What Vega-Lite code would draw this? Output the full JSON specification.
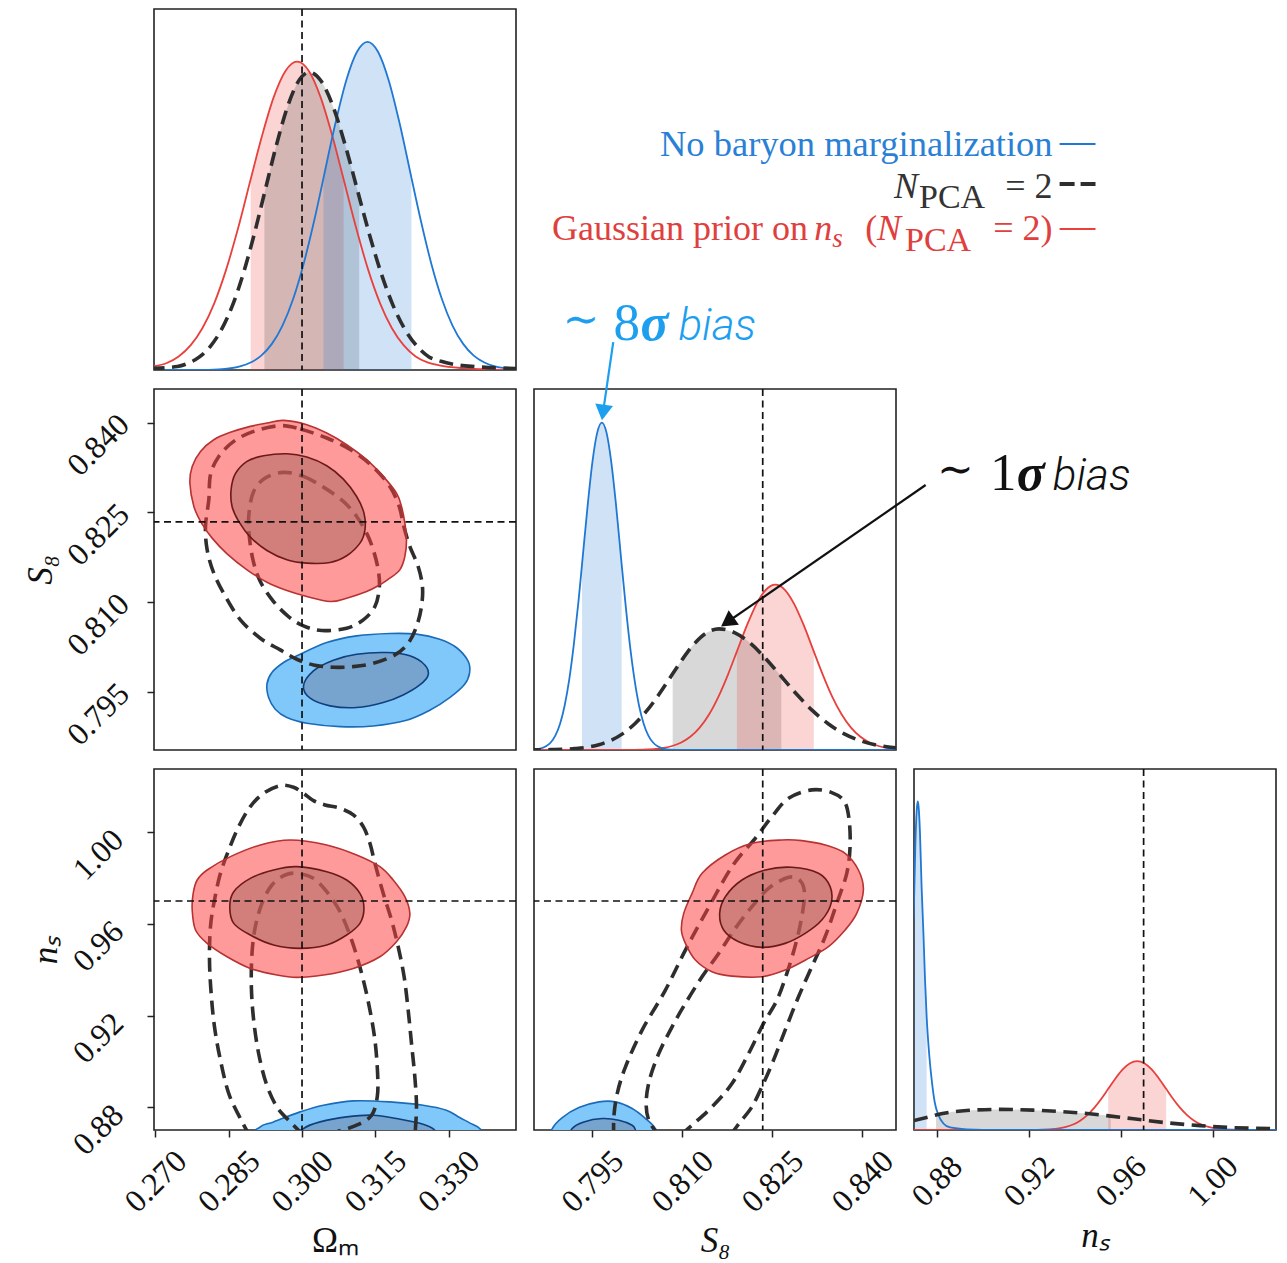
{
"$schema": "https://vega.github.io/schema/vega-lite/v6.json",
"padding": {"left": 22, "top": 7, "right": 5, "bottom": 0},
"background": "white",
"config": {
 "view": {"stroke": "#222222", "strokeWidth": 1.6},
 "axis": {"domain": false, "grid": false, "ticks": true, "tickSize": 7, "tickWidth": 1.5, "tickColor": "#222222", "labelFont": "Liberation Serif", "labelFontSize": 32, "labelColor": "#111111", "labelAngle": -45, "labelAlign": "center", "labelBaseline": "middle", "labelOverlap": false, "labelFlush": false, "labelBound": false, "titleFont": "Liberation Serif", "titleFontSize": 35, "titleFontWeight": "normal", "titleColor": "#111111"},
 "axisBottom": {"labelPadding": 44, "titlePadding": 6},
 "axisLeft": {"labelPadding": 49, "labelOffset": 22, "titlePadding": 3}
},
"datasets": {
 "A_b": [{"x":0.2699,"y":0,"sh":0},{"x":0.2786,"y":0.0003,"sh":0},{"x":0.28295,"y":0.002,"sh":0},{"x":0.2873,"y":0.0101,"sh":0},{"x":0.28948,"y":0.0207,"sh":0},{"x":0.29165,"y":0.0399,"sh":0},{"x":0.29383,"y":0.0724,"sh":0},{"x":0.296,"y":0.123,"sh":0},{"x":0.29818,"y":0.1966,"sh":0},{"x":0.30035,"y":0.2952,"sh":0},{"x":0.30253,"y":0.4161,"sh":0},{"x":0.3044,"y":0.5323,"sh":1},{"x":0.3047,"y":0.5513,"sh":1},{"x":0.30688,"y":0.6861,"sh":1},{"x":0.30905,"y":0.8022,"sh":1},{"x":0.31123,"y":0.881,"sh":1},{"x":0.3134,"y":0.909,"sh":1},{"x":0.31558,"y":0.881,"sh":1},{"x":0.31775,"y":0.8022,"sh":1},{"x":0.31993,"y":0.6861,"sh":1},{"x":0.3221,"y":0.5513,"sh":1},{"x":0.3224,"y":0.5323,"sh":1},{"x":0.32428,"y":0.4161,"sh":0},{"x":0.32645,"y":0.2952,"sh":0},{"x":0.32863,"y":0.1966,"sh":0},{"x":0.3308,"y":0.123,"sh":0},{"x":0.33298,"y":0.0724,"sh":0},{"x":0.33515,"y":0.0399,"sh":0},{"x":0.33733,"y":0.0207,"sh":0},{"x":0.3395,"y":0.0101,"sh":0},{"x":0.34385,"y":0.002,"sh":0}],
 "A_r": [{"x":0.2689,"y":0.009,"sh":0},{"x":0.27233,"y":0.0195,"sh":0},{"x":0.27475,"y":0.0375,"sh":0},{"x":0.27718,"y":0.068,"sh":0},{"x":0.2796,"y":0.1155,"sh":0},{"x":0.28203,"y":0.1847,"sh":0},{"x":0.28445,"y":0.2773,"sh":0},{"x":0.28688,"y":0.391,"sh":0},{"x":0.28949,"y":0.5284,"sh":1},{"x":0.29173,"y":0.6446,"sh":1},{"x":0.29415,"y":0.7537,"sh":1},{"x":0.29658,"y":0.8277,"sh":1},{"x":0.299,"y":0.854,"sh":1},{"x":0.30143,"y":0.8277,"sh":1},{"x":0.30385,"y":0.7537,"sh":1},{"x":0.30628,"y":0.6446,"sh":1},{"x":0.30851,"y":0.5284,"sh":1},{"x":0.31113,"y":0.391,"sh":0},{"x":0.31355,"y":0.2773,"sh":0},{"x":0.31598,"y":0.1847,"sh":0},{"x":0.3184,"y":0.1155,"sh":0},{"x":0.32083,"y":0.068,"sh":0},{"x":0.32325,"y":0.0375,"sh":0},{"x":0.32568,"y":0.021,"sh":0},{"x":0.3281,"y":0.013,"sh":0},{"x":0.33295,"y":0.005,"sh":0},{"x":0.3378,"y":0.0015,"sh":0},{"x":0.3446,"y":0,"sh":0}],
 "A_g": [{"x":0.269,"y":0.004,"sh":0},{"x":0.2745,"y":0.0095,"sh":0},{"x":0.27675,"y":0.019,"sh":0},{"x":0.279,"y":0.0362,"sh":0},{"x":0.28125,"y":0.0657,"sh":0},{"x":0.2835,"y":0.1116,"sh":0},{"x":0.28575,"y":0.1784,"sh":0},{"x":0.288,"y":0.2679,"sh":0},{"x":0.29025,"y":0.3777,"sh":0},{"x":0.2923,"y":0.4894,"sh":1},{"x":0.29475,"y":0.6227,"sh":1},{"x":0.297,"y":0.7281,"sh":1},{"x":0.29925,"y":0.7996,"sh":1},{"x":0.3015,"y":0.825,"sh":1},{"x":0.30395,"y":0.7996,"sh":1},{"x":0.3064,"y":0.7281,"sh":1},{"x":0.30885,"y":0.6227,"sh":1},{"x":0.3117,"y":0.4799,"sh":1},{"x":0.31375,"y":0.3777,"sh":0},{"x":0.3162,"y":0.2679,"sh":0},{"x":0.31865,"y":0.1784,"sh":0},{"x":0.3211,"y":0.1116,"sh":0},{"x":0.32355,"y":0.0657,"sh":0},{"x":0.326,"y":0.0362,"sh":0},{"x":0.32845,"y":0.024,"sh":0},{"x":0.3309,"y":0.016,"sh":0},{"x":0.3358,"y":0.009,"sh":0},{"x":0.3446,"y":0.004,"sh":0}],
 "B_b": [{"x":0.78575,"y":0.002,"sh":0},{"x":0.7873,"y":0.0101,"sh":0},{"x":0.78808,"y":0.0207,"sh":0},{"x":0.78885,"y":0.0398,"sh":0},{"x":0.78963,"y":0.0722,"sh":0},{"x":0.7904,"y":0.1227,"sh":0},{"x":0.79118,"y":0.1962,"sh":0},{"x":0.79195,"y":0.2945,"sh":0},{"x":0.79273,"y":0.4152,"sh":0},{"x":0.7933,"y":0.5144,"sh":1},{"x":0.79428,"y":0.6846,"sh":1},{"x":0.79505,"y":0.8004,"sh":1},{"x":0.79583,"y":0.8791,"sh":1},{"x":0.7966,"y":0.907,"sh":1},{"x":0.79738,"y":0.8791,"sh":1},{"x":0.79815,"y":0.8004,"sh":1},{"x":0.79893,"y":0.6846,"sh":1},{"x":0.7999,"y":0.5144,"sh":1},{"x":0.80048,"y":0.4152,"sh":0},{"x":0.80125,"y":0.2945,"sh":0},{"x":0.80203,"y":0.1962,"sh":0},{"x":0.8028,"y":0.1227,"sh":0},{"x":0.80358,"y":0.0722,"sh":0},{"x":0.80435,"y":0.0398,"sh":0},{"x":0.80513,"y":0.0207,"sh":0},{"x":0.8059,"y":0.0101,"sh":0},{"x":0.80745,"y":0.002,"sh":0},{"x":0.81055,"y":0,"sh":0},{"x":0.846,"y":0,"sh":0}],
 "B_g": [{"x":0.7841,"y":0.0001,"sh":0},{"x":0.7881,"y":0.001,"sh":0},{"x":0.7921,"y":0.004,"sh":0},{"x":0.7941,"y":0.0076,"sh":0},{"x":0.7961,"y":0.0147,"sh":0},{"x":0.7981,"y":0.0267,"sh":0},{"x":0.8001,"y":0.0454,"sh":0},{"x":0.8021,"y":0.0726,"sh":0},{"x":0.8041,"y":0.1089,"sh":0},{"x":0.8061,"y":0.1536,"sh":0},{"x":0.8084,"y":0.2111,"sh":1},{"x":0.8101,"y":0.2532,"sh":1},{"x":0.8121,"y":0.2961,"sh":1},{"x":0.8141,"y":0.3252,"sh":1},{"x":0.8161,"y":0.3355,"sh":1},{"x":0.8187,"y":0.3252,"sh":1},{"x":0.8213,"y":0.2961,"sh":1},{"x":0.8239,"y":0.2532,"sh":1},{"x":0.8265,"y":0.2035,"sh":1},{"x":0.8291,"y":0.1536,"sh":0},{"x":0.8317,"y":0.1089,"sh":0},{"x":0.8343,"y":0.0726,"sh":0},{"x":0.8369,"y":0.0454,"sh":0},{"x":0.8395,"y":0.0267,"sh":0},{"x":0.8421,"y":0.0147,"sh":0},{"x":0.8447,"y":0.0076,"sh":0},{"x":0.8473,"y":0.0037,"sh":0}],
 "B_r": [{"x":0.7853,"y":0,"sh":0},{"x":0.8003,"y":0.0002,"sh":0},{"x":0.80345,"y":0.001,"sh":0},{"x":0.8066,"y":0.0051,"sh":0},{"x":0.80818,"y":0.0104,"sh":0},{"x":0.80975,"y":0.0201,"sh":0},{"x":0.81133,"y":0.0365,"sh":0},{"x":0.8129,"y":0.062,"sh":0},{"x":0.81448,"y":0.0991,"sh":0},{"x":0.81605,"y":0.1487,"sh":0},{"x":0.81763,"y":0.2097,"sh":0},{"x":0.8191,"y":0.2734,"sh":1},{"x":0.82078,"y":0.3457,"sh":1},{"x":0.82235,"y":0.4042,"sh":1},{"x":0.82393,"y":0.4439,"sh":1},{"x":0.8255,"y":0.458,"sh":1},{"x":0.82708,"y":0.4439,"sh":1},{"x":0.82865,"y":0.4042,"sh":1},{"x":0.83023,"y":0.3457,"sh":1},{"x":0.8319,"y":0.2734,"sh":1},{"x":0.83338,"y":0.2097,"sh":0},{"x":0.83495,"y":0.1487,"sh":0},{"x":0.83653,"y":0.0991,"sh":0},{"x":0.8381,"y":0.062,"sh":0},{"x":0.83968,"y":0.0365,"sh":0},{"x":0.84125,"y":0.0201,"sh":0},{"x":0.84283,"y":0.0104,"sh":0},{"x":0.8444,"y":0.0051,"sh":0},{"x":0.84755,"y":0.001,"sh":0}],
 "C_b": [{"x":0.8695,"y":0.55,"sh":0},{"x":0.8701,"y":0.628,"sh":1},{"x":0.8707,"y":0.794,"sh":1},{"x":0.8713,"y":0.887,"sh":1},{"x":0.8717,"y":0.91,"sh":1},{"x":0.8721,"y":0.896,"sh":1},{"x":0.8727,"y":0.823,"sh":1},{"x":0.8734,"y":0.675,"sh":1},{"x":0.8742,"y":0.545,"sh":1},{"x":0.8749,"y":0.416,"sh":1},{"x":0.8756,"y":0.314,"sh":1},{"x":0.8768,"y":0.203,"sh":0},{"x":0.8778,"y":0.139,"sh":0},{"x":0.8792,"y":0.074,"sh":0},{"x":0.8807,"y":0.042,"sh":0},{"x":0.8829,"y":0.018,"sh":0},{"x":0.8858,"y":0.007,"sh":0},{"x":0.893,"y":0.002,"sh":0},{"x":0.9075,"y":0,"sh":0},{"x":1.03,"y":0,"sh":0}],
 "C_g": [{"x":0.8701,"y":0.026,"sh":0},{"x":0.8797,"y":0.0415,"sh":1},{"x":0.88,"y":0.042,"sh":1},{"x":0.893,"y":0.054,"sh":1},{"x":0.9075,"y":0.057,"sh":1},{"x":0.922,"y":0.055,"sh":1},{"x":0.9366,"y":0.05,"sh":1},{"x":0.9511,"y":0.042,"sh":1},{"x":0.9557,"y":0.0385,"sh":1},{"x":0.9656,"y":0.031,"sh":0},{"x":0.9801,"y":0.02,"sh":0},{"x":0.9946,"y":0.012,"sh":0},{"x":1.0091,"y":0.0065,"sh":0},{"x":1.0277,"y":0.004,"sh":0}],
 "C_r": [{"x":0.8701,"y":0,"sh":0},{"x":0.9176,"y":0,"sh":0},{"x":0.9238,"y":0.0004,"sh":0},{"x":0.93,"y":0.0021,"sh":0},{"x":0.9331,"y":0.0044,"sh":0},{"x":0.9362,"y":0.0084,"sh":0},{"x":0.9393,"y":0.0152,"sh":0},{"x":0.9424,"y":0.0258,"sh":0},{"x":0.9455,"y":0.0413,"sh":0},{"x":0.9486,"y":0.062,"sh":0},{"x":0.9517,"y":0.0874,"sh":0},{"x":0.9546,"y":0.114,"sh":1},{"x":0.9579,"y":0.1442,"sh":1},{"x":0.961,"y":0.1686,"sh":1},{"x":0.9641,"y":0.1851,"sh":1},{"x":0.9672,"y":0.191,"sh":1},{"x":0.9703,"y":0.1851,"sh":1},{"x":0.9734,"y":0.1686,"sh":1},{"x":0.9765,"y":0.1442,"sh":1},{"x":0.9798,"y":0.114,"sh":1},{"x":0.9827,"y":0.0874,"sh":0},{"x":0.9858,"y":0.062,"sh":0},{"x":0.9889,"y":0.0413,"sh":0},{"x":0.992,"y":0.0258,"sh":0},{"x":0.9951,"y":0.0152,"sh":0},{"x":0.9982,"y":0.0084,"sh":0},{"x":1.0013,"y":0.0044,"sh":0},{"x":1.0044,"y":0.0021,"sh":0},{"x":1.0106,"y":0.0004,"sh":0},{"x":1.0168,"y":0,"sh":0},{"x":1.03,"y":0,"sh":0}],
 "D_r2": [{"x":0.29622,"y":0.84036},{"x":0.30098,"y":0.83964},{"x":0.30506,"y":0.83824},{"x":0.30914,"y":0.83629},{"x":0.31322,"y":0.83379},{"x":0.31662,"y":0.831},{"x":0.31934,"y":0.82821},{"x":0.32036,"y":0.82598},{"x":0.32105,"y":0.8232},{"x":0.32139,"y":0.82041},{"x":0.32105,"y":0.81762},{"x":0.32002,"y":0.81539},{"x":0.31798,"y":0.814},{"x":0.31594,"y":0.81289},{"x":0.31322,"y":0.81177},{"x":0.30914,"y":0.81066},{"x":0.30574,"y":0.8101},{"x":0.30098,"y":0.81094},{"x":0.2969,"y":0.81194},{"x":0.29282,"y":0.81333},{"x":0.28874,"y":0.81539},{"x":0.28466,"y":0.81807},{"x":0.2816,"y":0.82069},{"x":0.27943,"y":0.8232},{"x":0.27786,"y":0.82598},{"x":0.27705,"y":0.82988},{"x":0.27752,"y":0.83267},{"x":0.27922,"y":0.83518},{"x":0.28194,"y":0.83713},{"x":0.28534,"y":0.83836},{"x":0.28942,"y":0.83936},{"x":0.29282,"y":0.83992}],
 "D_r1": [{"x":0.2969,"y":0.83479},{"x":0.30098,"y":0.83423},{"x":0.30506,"y":0.83278},{"x":0.30846,"y":0.83055},{"x":0.31118,"y":0.82765},{"x":0.31268,"y":0.82487},{"x":0.31288,"y":0.82208},{"x":0.31186,"y":0.81985},{"x":0.30914,"y":0.81774},{"x":0.30574,"y":0.81662},{"x":0.30098,"y":0.81651},{"x":0.2969,"y":0.81707},{"x":0.29282,"y":0.81863},{"x":0.28942,"y":0.82086},{"x":0.28704,"y":0.82348},{"x":0.28568,"y":0.82598},{"x":0.28548,"y":0.82877},{"x":0.28636,"y":0.83145},{"x":0.28874,"y":0.83351},{"x":0.29214,"y":0.83445}],
 "D_g2": [{"x":0.29554,"y":0.83947},{"x":0.29962,"y":0.83891},{"x":0.30506,"y":0.83741},{"x":0.3105,"y":0.83518},{"x":0.31458,"y":0.83256},{"x":0.31798,"y":0.82933},{"x":0.31989,"y":0.82598},{"x":0.32084,"y":0.82264},{"x":0.32207,"y":0.8193},{"x":0.32377,"y":0.81595},{"x":0.32465,"y":0.81261},{"x":0.32445,"y":0.80926},{"x":0.32343,"y":0.80592},{"x":0.32173,"y":0.80313},{"x":0.319,"y":0.80118},{"x":0.31458,"y":0.79979},{"x":0.3105,"y":0.79923},{"x":0.30642,"y":0.79912},{"x":0.30234,"y":0.79951},{"x":0.29894,"y":0.80046},{"x":0.29554,"y":0.80202},{"x":0.29146,"y":0.80397},{"x":0.28738,"y":0.80704},{"x":0.28432,"y":0.81094},{"x":0.28194,"y":0.81484},{"x":0.28058,"y":0.81874},{"x":0.28024,"y":0.82264},{"x":0.28092,"y":0.8271},{"x":0.28126,"y":0.83128},{"x":0.28296,"y":0.83434},{"x":0.28602,"y":0.83685},{"x":0.2901,"y":0.83852}],
 "D_g1": [{"x":0.29622,"y":0.83167},{"x":0.3003,"y":0.831},{"x":0.30438,"y":0.82921},{"x":0.30846,"y":0.82682},{"x":0.31118,"y":0.82431},{"x":0.31322,"y":0.82152},{"x":0.31458,"y":0.81874},{"x":0.3156,"y":0.81539},{"x":0.31581,"y":0.81233},{"x":0.31492,"y":0.80926},{"x":0.31254,"y":0.80703},{"x":0.30914,"y":0.80564},{"x":0.30404,"y":0.80525},{"x":0.3003,"y":0.80603},{"x":0.29724,"y":0.80759},{"x":0.29418,"y":0.8101},{"x":0.29146,"y":0.81344},{"x":0.28996,"y":0.81707},{"x":0.28915,"y":0.82152},{"x":0.28915,"y":0.82487},{"x":0.2901,"y":0.82849},{"x":0.29248,"y":0.83072}],
 "D_b2": [{"x":0.29894,"y":0.80103},{"x":0.30506,"y":0.80325},{"x":0.31118,"y":0.80436},{"x":0.31798,"y":0.80476},{"x":0.32343,"y":0.80465},{"x":0.32819,"y":0.80381},{"x":0.33159,"y":0.80242},{"x":0.33397,"y":0.80019},{"x":0.33431,"y":0.79824},{"x":0.33329,"y":0.79629},{"x":0.33023,"y":0.79406},{"x":0.32615,"y":0.79194},{"x":0.32139,"y":0.79027},{"x":0.31458,"y":0.78932},{"x":0.30778,"y":0.78921},{"x":0.30098,"y":0.78977},{"x":0.2969,"y":0.79072},{"x":0.29452,"y":0.79211},{"x":0.29316,"y":0.79406},{"x":0.29282,"y":0.79629},{"x":0.29384,"y":0.79824},{"x":0.29622,"y":0.79991}],
 "D_b1": [{"x":0.3003,"y":0.79601},{"x":0.30234,"y":0.79852},{"x":0.30642,"y":0.8003},{"x":0.31118,"y":0.8013},{"x":0.3173,"y":0.80158},{"x":0.32207,"y":0.80103},{"x":0.32513,"y":0.79951},{"x":0.32581,"y":0.79779},{"x":0.32411,"y":0.79617},{"x":0.3207,"y":0.7945},{"x":0.31662,"y":0.79322},{"x":0.31118,"y":0.79239},{"x":0.30574,"y":0.79267},{"x":0.30166,"y":0.79395}],
 "E_r2": [{"x":0.29758,"y":0.99664},{"x":0.30506,"y":0.99446},{"x":0.31118,"y":0.99009},{"x":0.31594,"y":0.985},{"x":0.31866,"y":0.97917},{"x":0.32105,"y":0.97189},{"x":0.32207,"y":0.96462},{"x":0.32139,"y":0.9588},{"x":0.31934,"y":0.95225},{"x":0.31594,"y":0.94569},{"x":0.3105,"y":0.9406},{"x":0.30438,"y":0.93769},{"x":0.29894,"y":0.93667},{"x":0.29486,"y":0.93769},{"x":0.28942,"y":0.9406},{"x":0.28466,"y":0.94569},{"x":0.28058,"y":0.95152},{"x":0.2782,"y":0.95734},{"x":0.27752,"y":0.96607},{"x":0.27772,"y":0.97335},{"x":0.27854,"y":0.97917},{"x":0.28058,"y":0.98354},{"x":0.28534,"y":0.98936},{"x":0.29146,"y":0.99446}],
 "E_r1": [{"x":0.29894,"y":0.985},{"x":0.30506,"y":0.98281},{"x":0.30914,"y":0.97917},{"x":0.31186,"y":0.97335},{"x":0.31268,"y":0.9668},{"x":0.31186,"y":0.96025},{"x":0.30914,"y":0.95516},{"x":0.30506,"y":0.95079},{"x":0.29962,"y":0.94933},{"x":0.29418,"y":0.95079},{"x":0.28942,"y":0.95516},{"x":0.28602,"y":0.96025},{"x":0.28521,"y":0.96753},{"x":0.28602,"y":0.97408},{"x":0.28942,"y":0.9799},{"x":0.29418,"y":0.98354}],
 "E_g2": [{"x":0.28942,"y":0.86709},{"x":0.28738,"y":0.8751},{"x":0.285,"y":0.88601},{"x":0.2833,"y":0.90057},{"x":0.28208,"y":0.91513},{"x":0.2814,"y":0.92968},{"x":0.28106,"y":0.94424},{"x":0.28126,"y":0.9588},{"x":0.28208,"y":0.97044},{"x":0.2833,"y":0.98208},{"x":0.285,"y":0.99228},{"x":0.28704,"y":1.00246},{"x":0.28942,"y":1.0112},{"x":0.29214,"y":1.01702},{"x":0.29554,"y":1.02037},{"x":0.29826,"y":1.01964},{"x":0.3003,"y":1.01702},{"x":0.30234,"y":1.01382},{"x":0.30472,"y":1.01193},{"x":0.30778,"y":1.01047},{"x":0.3105,"y":1.00756},{"x":0.31254,"y":1.00246},{"x":0.3139,"y":0.99519},{"x":0.31492,"y":0.98645},{"x":0.31662,"y":0.97335},{"x":0.31832,"y":0.96171},{"x":0.31968,"y":0.95006},{"x":0.3209,"y":0.93696},{"x":0.32173,"y":0.9224},{"x":0.32241,"y":0.90785},{"x":0.32309,"y":0.89329},{"x":0.32343,"y":0.88019},{"x":0.32309,"y":0.86709}],
 "E_g1": [{"x":0.3003,"y":0.86782},{"x":0.29758,"y":0.87364},{"x":0.29486,"y":0.88019},{"x":0.29268,"y":0.89038},{"x":0.29112,"y":0.90348},{"x":0.2901,"y":0.91804},{"x":0.28963,"y":0.93259},{"x":0.28976,"y":0.94715},{"x":0.29044,"y":0.9588},{"x":0.2918,"y":0.96899},{"x":0.29384,"y":0.97699},{"x":0.29656,"y":0.98136},{"x":0.29928,"y":0.98208},{"x":0.30234,"y":0.9799},{"x":0.30506,"y":0.97408},{"x":0.30778,"y":0.96535},{"x":0.31016,"y":0.95297},{"x":0.3122,"y":0.93842},{"x":0.31377,"y":0.92386},{"x":0.31492,"y":0.90931},{"x":0.31547,"y":0.89475},{"x":0.3154,"y":0.88456},{"x":0.31424,"y":0.87655},{"x":0.31118,"y":0.87219},{"x":0.3071,"y":0.86928},{"x":0.30438,"y":0.86709}],
 "E_b2": [{"x":0.29044,"y":0.86564},{"x":0.29146,"y":0.87146},{"x":0.29418,"y":0.87364},{"x":0.29962,"y":0.87801},{"x":0.30438,"y":0.88092},{"x":0.3105,"y":0.88281},{"x":0.31798,"y":0.88238},{"x":0.32479,"y":0.88092},{"x":0.32955,"y":0.87874},{"x":0.33227,"y":0.87554},{"x":0.33431,"y":0.8732},{"x":0.33635,"y":0.87073},{"x":0.33703,"y":0.86564},{"x":0.31458,"y":0.85982}],
 "E_b1": [{"x":0.29962,"y":0.86709},{"x":0.3003,"y":0.87073},{"x":0.3037,"y":0.87364},{"x":0.30914,"y":0.87583},{"x":0.31458,"y":0.87655},{"x":0.31934,"y":0.8751},{"x":0.32479,"y":0.87262},{"x":0.32717,"y":0.87},{"x":0.32751,"y":0.86564},{"x":0.31458,"y":0.86127}],
 "F_r2": [{"x":0.82659,"y":0.99664},{"x":0.82991,"y":0.99635},{"x":0.8338,"y":0.99446},{"x":0.83712,"y":0.99082},{"x":0.83934,"y":0.98354},{"x":0.84017,"y":0.97481},{"x":0.83906,"y":0.96462},{"x":0.83712,"y":0.95734},{"x":0.83435,"y":0.95006},{"x":0.83102,"y":0.94497},{"x":0.82714,"y":0.93987},{"x":0.82327,"y":0.93696},{"x":0.81828,"y":0.93725},{"x":0.81495,"y":0.93915},{"x":0.81218,"y":0.94424},{"x":0.81052,"y":0.95152},{"x":0.80985,"y":0.95734},{"x":0.81024,"y":0.96462},{"x":0.81163,"y":0.97335},{"x":0.81329,"y":0.98208},{"x":0.81717,"y":0.99009},{"x":0.8216,"y":0.99519}],
 "F_r1": [{"x":0.82825,"y":0.98471},{"x":0.83269,"y":0.98208},{"x":0.83463,"y":0.97626},{"x":0.83479,"y":0.96899},{"x":0.83324,"y":0.96171},{"x":0.83047,"y":0.95588},{"x":0.82714,"y":0.95152},{"x":0.82327,"y":0.94977},{"x":0.81939,"y":0.95225},{"x":0.81689,"y":0.95734},{"x":0.81623,"y":0.96462},{"x":0.81717,"y":0.97189},{"x":0.81994,"y":0.97917},{"x":0.82382,"y":0.98354}],
 "F_g2": [{"x":0.7986,"y":0.86709},{"x":0.7986,"y":0.87583},{"x":0.79916,"y":0.88601},{"x":0.80054,"y":0.89766},{"x":0.80331,"y":0.91367},{"x":0.80719,"y":0.93114},{"x":0.81052,"y":0.9486},{"x":0.81384,"y":0.96462},{"x":0.81828,"y":0.985},{"x":0.82216,"y":0.99737},{"x":0.82493,"y":1.00683},{"x":0.8277,"y":1.01484},{"x":0.83158,"y":1.01848},{"x":0.8349,"y":1.01731},{"x":0.83701,"y":1.01338},{"x":0.83779,"y":1.00538},{"x":0.83795,"y":0.99373},{"x":0.8374,"y":0.98208},{"x":0.83574,"y":0.96899},{"x":0.8338,"y":0.95443},{"x":0.83158,"y":0.94133},{"x":0.82936,"y":0.92822},{"x":0.82714,"y":0.91367},{"x":0.8252,"y":0.90057},{"x":0.82338,"y":0.88965},{"x":0.8216,"y":0.88019},{"x":0.81966,"y":0.87364},{"x":0.818,"y":0.86782}],
 "F_g1": [{"x":0.80636,"y":0.86709},{"x":0.80453,"y":0.87364},{"x":0.80398,"y":0.88165},{"x":0.80453,"y":0.89184},{"x":0.80608,"y":0.90348},{"x":0.8083,"y":0.91513},{"x":0.81052,"y":0.92532},{"x":0.81329,"y":0.93696},{"x":0.81606,"y":0.94715},{"x":0.81883,"y":0.95807},{"x":0.8216,"y":0.96753},{"x":0.82437,"y":0.97553},{"x":0.8277,"y":0.98034},{"x":0.82964,"y":0.97888},{"x":0.83036,"y":0.97335},{"x":0.82991,"y":0.96316},{"x":0.82892,"y":0.95152},{"x":0.82742,"y":0.93842},{"x":0.82576,"y":0.92677},{"x":0.82354,"y":0.91658},{"x":0.82105,"y":0.90348},{"x":0.81828,"y":0.89038},{"x":0.81495,"y":0.88019},{"x":0.81163,"y":0.87219},{"x":0.80969,"y":0.86782}],
 "F_b2": [{"x":0.78807,"y":0.86564},{"x":0.78835,"y":0.87073},{"x":0.79001,"y":0.87554},{"x":0.79278,"y":0.8799},{"x":0.79611,"y":0.88238},{"x":0.79888,"y":0.88238},{"x":0.80165,"y":0.87946},{"x":0.80387,"y":0.8751},{"x":0.80553,"y":0.87073},{"x":0.80608,"y":0.86564},{"x":0.79666,"y":0.85981}],
 "F_b1": [{"x":0.7914,"y":0.86564},{"x":0.79167,"y":0.87073},{"x":0.79361,"y":0.87364},{"x":0.79666,"y":0.8751},{"x":0.79943,"y":0.87437},{"x":0.80165,"y":0.87219},{"x":0.8022,"y":0.87},{"x":0.80248,"y":0.86564},{"x":0.79666,"y":0.86127}],
 "tv_om": [{"v":0.3}],
 "tv_s8": [{"v":0.8234}],
 "tv_ns": [{"v":0.97}],
 "ann": [{"g":"8σ","f":"t","t":"∼","x":0.79006,"y":1.1524},{"g":"8σ","f":"d","t":"8","x":0.79854,"y":1.1357},{"g":"8σ","f":"g","t":"σ","x":0.80303,"y":1.1357},{"g":"8σ","f":"b","t":"bias","x":0.80935,"y":1.1357},{"g":"1σ","f":"t","t":"∼","x":0.85243,"y":0.7368},{"g":"1σ","f":"d","t":"1","x":0.86124,"y":0.7202},{"g":"1σ","f":"g","t":"σ","x":0.86573,"y":0.7202},{"g":"1σ","f":"b","t":"bias","x":0.87171,"y":0.7202}],
 "arr": [{"g":"8σ","x":0.7985,"y":1.13,"x2":0.7968,"y2":0.935},{"g":"1σ","x":0.85054,"y":0.734,"x2":0.81752,"y2":0.3546}],
 "leg": [{"f":"b","t":"No baryon marginalization","x":0.3829,"y":0.5928},{"f":"ki","t":"N","x":-0.0551,"y":0.477},{"f":"ks","t":"PCA","x":0.0138,"y":0.4488},{"f":"kr","t":"= 2","x":0.3829,"y":0.477},{"f":"rl","t":"Gaussian prior on","x":-1.0,"y":0.36},{"f":"ri","t":"n","x":-0.2755,"y":0.36},{"f":"rsi","t":"s","x":-0.2259,"y":0.341},{"f":"rl","t":"(","x":-0.135,"y":0.36},{"f":"ri","t":"N","x":-0.1019,"y":0.36},{"f":"rs","t":"PCA","x":-0.0248,"y":0.3296},{"f":"rr","t":"= 2)","x":0.3829,"y":0.36}],
 "legl": [{"s":"b","x":0.4022,"x2":0.5014,"y":0.626},{"s":"g","x":0.4022,"x2":0.5014,"y":0.5152},{"s":"r","x":0.4022,"x2":0.5014,"y":0.3906}]
},
"columns": 3,
"spacing": {"row": 19, "column": 18},
"bounds": "flush",
"concat": [
 {"width": 362, "height": 361, "layer": [
  {"data": {"name": "A_r"}, "transform": [{"filter": "datum.sh==1"}], "mark": {"type": "area", "color": "#e8403c", "opacity": 0.22, "interpolate": "monotone", "clip": true}, "encoding": {"x": {"field": "x", "type": "quantitative", "scale": {"domain": [0.2697, 0.3438], "nice": false, "zero": false}, "axis": null}, "y": {"field": "y", "type": "quantitative", "scale": {"domain": [0, 1], "nice": false, "zero": false}, "axis": null, "stack": null}}},
  {"data": {"name": "A_g"}, "transform": [{"filter": "datum.sh==1"}], "mark": {"type": "area", "color": "#3a3a3a", "opacity": 0.2, "interpolate": "monotone", "clip": true}, "encoding": {"x": {"field": "x", "type": "quantitative", "scale": {"domain": [0.2697, 0.3438], "nice": false, "zero": false}, "axis": null}, "y": {"field": "y", "type": "quantitative", "scale": {"domain": [0, 1], "nice": false, "zero": false}, "axis": null, "stack": null}}},
  {"data": {"name": "A_b"}, "transform": [{"filter": "datum.sh==1"}], "mark": {"type": "area", "color": "#1f78d4", "opacity": 0.21, "interpolate": "monotone", "clip": true}, "encoding": {"x": {"field": "x", "type": "quantitative", "scale": {"domain": [0.2697, 0.3438], "nice": false, "zero": false}, "axis": null}, "y": {"field": "y", "type": "quantitative", "scale": {"domain": [0, 1], "nice": false, "zero": false}, "axis": null, "stack": null}}},
  {"data": {"name": "A_r"}, "mark": {"type": "line", "color": "#e8403c", "strokeWidth": 1.8, "interpolate": "monotone", "clip": true}, "encoding": {"x": {"field": "x", "type": "quantitative", "scale": {"domain": [0.2697, 0.3438], "nice": false, "zero": false}, "axis": null}, "y": {"field": "y", "type": "quantitative", "scale": {"domain": [0, 1], "nice": false, "zero": false}, "axis": null, "stack": null}}},
  {"data": {"name": "A_b"}, "mark": {"type": "line", "color": "#1f78d4", "strokeWidth": 1.8, "interpolate": "monotone", "clip": true}, "encoding": {"x": {"field": "x", "type": "quantitative", "scale": {"domain": [0.2697, 0.3438], "nice": false, "zero": false}, "axis": null}, "y": {"field": "y", "type": "quantitative", "scale": {"domain": [0, 1], "nice": false, "zero": false}, "axis": null, "stack": null}}},
  {"data": {"name": "A_g"}, "mark": {"type": "line", "color": "#2e2e2e", "strokeWidth": 3.6, "strokeDash": [14, 7.5], "interpolate": "monotone", "clip": true}, "encoding": {"x": {"field": "x", "type": "quantitative", "scale": {"domain": [0.2697, 0.3438], "nice": false, "zero": false}, "axis": null}, "y": {"field": "y", "type": "quantitative", "scale": {"domain": [0, 1], "nice": false, "zero": false}, "axis": null, "stack": null}}},
  {"data": {"name": "tv_om"}, "mark": {"type": "rule", "color": "#111111", "strokeWidth": 1.7, "strokeDash": [7, 4.5]}, "encoding": {"x": {"field": "v", "type": "quantitative", "scale": {"domain": [0.2697, 0.3438], "nice": false, "zero": false}, "axis": null}}}
 ]},
 {"width": 362, "height": 361, "view": {"stroke": null}, "data": {"values": [{"a": 0}]}, "mark": {"type": "text", "text": ""}},
 {"width": 362, "height": 361, "view": {"stroke": null}, "data": {"name": "leg"}, "layer": [
  {"transform": [{"filter": "datum.f=='b'"}], "mark": {"type": "text", "align": "right", "baseline": "alphabetic", "font": "Liberation Serif", "fontSize": 36.5, "color": "#2a7fd6", "clip": false}, "encoding": {"x": {"field": "x", "type": "quantitative", "scale": {"domain": [0, 1], "nice": false, "zero": false}, "axis": null}, "y": {"field": "y", "type": "quantitative", "scale": {"domain": [0, 1], "nice": false, "zero": false}, "axis": null}, "text": {"field": "t"}}},
  {"transform": [{"filter": "datum.f=='ki'"}], "mark": {"type": "text", "align": "left", "baseline": "alphabetic", "font": "Liberation Serif", "fontStyle": "italic", "fontSize": 36, "color": "#333333", "clip": false}, "encoding": {"x": {"field": "x", "type": "quantitative", "scale": {"domain": [0, 1], "nice": false, "zero": false}, "axis": null}, "y": {"field": "y", "type": "quantitative", "scale": {"domain": [0, 1], "nice": false, "zero": false}, "axis": null}, "text": {"field": "t"}}},
  {"transform": [{"filter": "datum.f=='ks'"}], "mark": {"type": "text", "align": "left", "baseline": "alphabetic", "font": "Liberation Serif", "fontSize": 34, "color": "#333333", "clip": false}, "encoding": {"x": {"field": "x", "type": "quantitative", "scale": {"domain": [0, 1], "nice": false, "zero": false}, "axis": null}, "y": {"field": "y", "type": "quantitative", "scale": {"domain": [0, 1], "nice": false, "zero": false}, "axis": null}, "text": {"field": "t"}}},
  {"transform": [{"filter": "datum.f=='kr'"}], "mark": {"type": "text", "align": "right", "baseline": "alphabetic", "font": "Liberation Serif", "fontSize": 36, "color": "#333333", "clip": false}, "encoding": {"x": {"field": "x", "type": "quantitative", "scale": {"domain": [0, 1], "nice": false, "zero": false}, "axis": null}, "y": {"field": "y", "type": "quantitative", "scale": {"domain": [0, 1], "nice": false, "zero": false}, "axis": null}, "text": {"field": "t"}}},
  {"transform": [{"filter": "datum.f=='rl'"}], "mark": {"type": "text", "align": "left", "baseline": "alphabetic", "font": "Liberation Serif", "fontSize": 36, "color": "#e0403d", "clip": false}, "encoding": {"x": {"field": "x", "type": "quantitative", "scale": {"domain": [0, 1], "nice": false, "zero": false}, "axis": null}, "y": {"field": "y", "type": "quantitative", "scale": {"domain": [0, 1], "nice": false, "zero": false}, "axis": null}, "text": {"field": "t"}}},
  {"transform": [{"filter": "datum.f=='ri'"}], "mark": {"type": "text", "align": "left", "baseline": "alphabetic", "font": "Liberation Serif", "fontStyle": "italic", "fontSize": 36, "color": "#e0403d", "clip": false}, "encoding": {"x": {"field": "x", "type": "quantitative", "scale": {"domain": [0, 1], "nice": false, "zero": false}, "axis": null}, "y": {"field": "y", "type": "quantitative", "scale": {"domain": [0, 1], "nice": false, "zero": false}, "axis": null}, "text": {"field": "t"}}},
  {"transform": [{"filter": "datum.f=='rsi'"}], "mark": {"type": "text", "align": "left", "baseline": "alphabetic", "font": "Liberation Serif", "fontStyle": "italic", "fontSize": 27, "color": "#e0403d", "clip": false}, "encoding": {"x": {"field": "x", "type": "quantitative", "scale": {"domain": [0, 1], "nice": false, "zero": false}, "axis": null}, "y": {"field": "y", "type": "quantitative", "scale": {"domain": [0, 1], "nice": false, "zero": false}, "axis": null}, "text": {"field": "t"}}},
  {"transform": [{"filter": "datum.f=='rs'"}], "mark": {"type": "text", "align": "left", "baseline": "alphabetic", "font": "Liberation Serif", "fontSize": 34, "color": "#e0403d", "clip": false}, "encoding": {"x": {"field": "x", "type": "quantitative", "scale": {"domain": [0, 1], "nice": false, "zero": false}, "axis": null}, "y": {"field": "y", "type": "quantitative", "scale": {"domain": [0, 1], "nice": false, "zero": false}, "axis": null}, "text": {"field": "t"}}},
  {"transform": [{"filter": "datum.f=='rr'"}], "mark": {"type": "text", "align": "right", "baseline": "alphabetic", "font": "Liberation Serif", "fontSize": 36, "color": "#e0403d", "clip": false}, "encoding": {"x": {"field": "x", "type": "quantitative", "scale": {"domain": [0, 1], "nice": false, "zero": false}, "axis": null}, "y": {"field": "y", "type": "quantitative", "scale": {"domain": [0, 1], "nice": false, "zero": false}, "axis": null}, "text": {"field": "t"}}},
  {"data": {"name": "legl"}, "transform": [{"filter": "datum.s=='b'"}], "mark": {"type": "rule", "color": "#1f78d4", "strokeWidth": 2, "clip": false}, "encoding": {"x": {"field": "x", "type": "quantitative", "scale": {"domain": [0, 1], "nice": false, "zero": false}, "axis": null}, "x2": {"field": "x2"}, "y": {"field": "y", "type": "quantitative", "scale": {"domain": [0, 1], "nice": false, "zero": false}, "axis": null}}},
  {"data": {"name": "legl"}, "transform": [{"filter": "datum.s=='g'"}], "mark": {"type": "rule", "color": "#2e2e2e", "strokeWidth": 4, "strokeDash": [15, 6], "clip": false}, "encoding": {"x": {"field": "x", "type": "quantitative", "scale": {"domain": [0, 1], "nice": false, "zero": false}, "axis": null}, "x2": {"field": "x2"}, "y": {"field": "y", "type": "quantitative", "scale": {"domain": [0, 1], "nice": false, "zero": false}, "axis": null}}},
  {"data": {"name": "legl"}, "transform": [{"filter": "datum.s=='r'"}], "mark": {"type": "rule", "color": "#e8403c", "strokeWidth": 2, "clip": false}, "encoding": {"x": {"field": "x", "type": "quantitative", "scale": {"domain": [0, 1], "nice": false, "zero": false}, "axis": null}, "x2": {"field": "x2"}, "y": {"field": "y", "type": "quantitative", "scale": {"domain": [0, 1], "nice": false, "zero": false}, "axis": null}}}
 ]},
 {"width": 362, "height": 361, "layer": [
  {"data": {"name": "D_b2"}, "mark": {"type": "line", "interpolate": "cardinal-closed", "fill": "#80c8fa", "stroke": "#1a6cb8", "strokeWidth": 1.6, "clip": true}, "encoding": {"x": {"field": "x", "type": "quantitative", "scale": {"domain": [0.2697, 0.3438], "nice": false, "zero": false}, "axis": null}, "y": {"field": "y", "type": "quantitative", "scale": {"domain": [0.7853, 0.8456], "nice": false, "zero": false}, "axis": {"values": [0.795, 0.81, 0.825, 0.84], "format": ".3f", "title": "S₈", "titleFontStyle": "italic", "labelFont": "Liberation Serif", "labelFontSize": 32, "titleFont": "Liberation Serif", "titleFontSize": 35}}, "order": {"value": null}}},
  {"data": {"name": "D_b1"}, "mark": {"type": "line", "interpolate": "cardinal-closed", "fill": "#77a3cf", "stroke": "#0f3f7c", "strokeWidth": 1.6, "clip": true}, "encoding": {"x": {"field": "x", "type": "quantitative", "scale": {"domain": [0.2697, 0.3438], "nice": false, "zero": false}, "axis": null}, "y": {"field": "y", "type": "quantitative", "scale": {"domain": [0.7853, 0.8456], "nice": false, "zero": false}}, "order": {"value": null}}},
  {"data": {"name": "D_g2"}, "mark": {"type": "line", "interpolate": "cardinal-closed", "stroke": "#2e2e2e", "strokeWidth": 3.6, "strokeDash": [14, 7.5], "clip": true}, "encoding": {"x": {"field": "x", "type": "quantitative", "scale": {"domain": [0.2697, 0.3438], "nice": false, "zero": false}, "axis": null}, "y": {"field": "y", "type": "quantitative", "scale": {"domain": [0.7853, 0.8456], "nice": false, "zero": false}}, "order": {"value": null}}},
  {"data": {"name": "D_g1"}, "mark": {"type": "line", "interpolate": "cardinal-closed", "stroke": "#2e2e2e", "strokeWidth": 3.6, "strokeDash": [14, 7.5], "clip": true}, "encoding": {"x": {"field": "x", "type": "quantitative", "scale": {"domain": [0.2697, 0.3438], "nice": false, "zero": false}, "axis": null}, "y": {"field": "y", "type": "quantitative", "scale": {"domain": [0.7853, 0.8456], "nice": false, "zero": false}}, "order": {"value": null}}},
  {"data": {"name": "D_r2"}, "mark": {"type": "line", "interpolate": "cardinal-closed", "fill": "#ff4040", "fillOpacity": 0.53, "stroke": "#b83232", "strokeWidth": 1.6, "clip": true}, "encoding": {"x": {"field": "x", "type": "quantitative", "scale": {"domain": [0.2697, 0.3438], "nice": false, "zero": false}, "axis": null}, "y": {"field": "y", "type": "quantitative", "scale": {"domain": [0.7853, 0.8456], "nice": false, "zero": false}}, "order": {"value": null}}},
  {"data": {"name": "D_r1"}, "mark": {"type": "line", "interpolate": "cardinal-closed", "fill": "#aa6763", "fillOpacity": 0.53, "stroke": "#6b1a1a", "strokeWidth": 1.6, "clip": true}, "encoding": {"x": {"field": "x", "type": "quantitative", "scale": {"domain": [0.2697, 0.3438], "nice": false, "zero": false}, "axis": null}, "y": {"field": "y", "type": "quantitative", "scale": {"domain": [0.7853, 0.8456], "nice": false, "zero": false}}, "order": {"value": null}}},
  {"data": {"name": "tv_om"}, "mark": {"type": "rule", "color": "#111111", "strokeWidth": 1.7, "strokeDash": [7, 4.5]}, "encoding": {"x": {"field": "v", "type": "quantitative", "scale": {"domain": [0.2697, 0.3438], "nice": false, "zero": false}, "axis": null}}},
  {"data": {"name": "tv_s8"}, "mark": {"type": "rule", "color": "#111111", "strokeWidth": 1.7, "strokeDash": [7, 4.5]}, "encoding": {"y": {"field": "v", "type": "quantitative", "scale": {"domain": [0.7853, 0.8456], "nice": false, "zero": false}}}}
 ]},
 {"width": 362, "height": 361, "layer": [
  {"data": {"name": "B_b"}, "transform": [{"filter": "datum.sh==1"}], "mark": {"type": "area", "color": "#1f78d4", "opacity": 0.21, "interpolate": "monotone", "clip": true}, "encoding": {"x": {"field": "x", "type": "quantitative", "scale": {"domain": [0.7853, 0.8456], "nice": false, "zero": false}, "axis": null}, "y": {"field": "y", "type": "quantitative", "scale": {"domain": [0, 1], "nice": false, "zero": false}, "axis": null, "stack": null}}},
  {"data": {"name": "B_g"}, "transform": [{"filter": "datum.sh==1"}], "mark": {"type": "area", "color": "#3a3a3a", "opacity": 0.2, "interpolate": "monotone", "clip": true}, "encoding": {"x": {"field": "x", "type": "quantitative", "scale": {"domain": [0.7853, 0.8456], "nice": false, "zero": false}, "axis": null}, "y": {"field": "y", "type": "quantitative", "scale": {"domain": [0, 1], "nice": false, "zero": false}, "axis": null, "stack": null}}},
  {"data": {"name": "B_r"}, "transform": [{"filter": "datum.sh==1"}], "mark": {"type": "area", "color": "#e8403c", "opacity": 0.22, "interpolate": "monotone", "clip": true}, "encoding": {"x": {"field": "x", "type": "quantitative", "scale": {"domain": [0.7853, 0.8456], "nice": false, "zero": false}, "axis": null}, "y": {"field": "y", "type": "quantitative", "scale": {"domain": [0, 1], "nice": false, "zero": false}, "axis": null, "stack": null}}},
  {"data": {"name": "B_r"}, "mark": {"type": "line", "color": "#e8403c", "strokeWidth": 1.8, "interpolate": "monotone", "clip": true}, "encoding": {"x": {"field": "x", "type": "quantitative", "scale": {"domain": [0.7853, 0.8456], "nice": false, "zero": false}, "axis": null}, "y": {"field": "y", "type": "quantitative", "scale": {"domain": [0, 1], "nice": false, "zero": false}, "axis": null, "stack": null}}},
  {"data": {"name": "B_b"}, "mark": {"type": "line", "color": "#1f78d4", "strokeWidth": 1.8, "interpolate": "monotone", "clip": true}, "encoding": {"x": {"field": "x", "type": "quantitative", "scale": {"domain": [0.7853, 0.8456], "nice": false, "zero": false}, "axis": null}, "y": {"field": "y", "type": "quantitative", "scale": {"domain": [0, 1], "nice": false, "zero": false}, "axis": null, "stack": null}}},
  {"data": {"name": "B_g"}, "mark": {"type": "line", "color": "#2e2e2e", "strokeWidth": 3.6, "strokeDash": [14, 7.5], "interpolate": "monotone", "clip": true}, "encoding": {"x": {"field": "x", "type": "quantitative", "scale": {"domain": [0.7853, 0.8456], "nice": false, "zero": false}, "axis": null}, "y": {"field": "y", "type": "quantitative", "scale": {"domain": [0, 1], "nice": false, "zero": false}, "axis": null, "stack": null}}},
  {"data": {"name": "tv_s8"}, "mark": {"type": "rule", "color": "#111111", "strokeWidth": 1.7, "strokeDash": [7, 4.5]}, "encoding": {"x": {"field": "v", "type": "quantitative", "scale": {"domain": [0.7853, 0.8456], "nice": false, "zero": false}, "axis": null}}},
  {"data": {"name": "arr"}, "mark": {"type": "rule", "strokeWidth": 2.2, "clip": false}, "encoding": {"x": {"field": "x", "type": "quantitative", "scale": {"domain": [0.7853, 0.8456], "nice": false, "zero": false}, "axis": null}, "y": {"field": "y", "type": "quantitative", "scale": {"domain": [0, 1], "nice": false, "zero": false}, "axis": null}, "x2": {"field": "x2"}, "y2": {"field": "y2"}, "color": {"field": "g", "type": "nominal", "scale": {"domain": ["8σ", "1σ"], "range": ["#1d9ff0", "#111111"]}, "legend": null}}},
  {"data": {"name": "arr"}, "transform": [{"filter": "datum.g=='8σ'"}], "mark": {"type": "point", "shape": "triangle-down", "filled": true, "opacity": 1, "size": 320, "angle": 8, "clip": false}, "encoding": {"x": {"field": "x2", "type": "quantitative", "scale": {"domain": [0.7853, 0.8456], "nice": false, "zero": false}, "axis": null}, "y": {"field": "y2", "type": "quantitative", "scale": {"domain": [0, 1], "nice": false, "zero": false}, "axis": null}, "color": {"field": "g", "type": "nominal", "scale": {"domain": ["8σ", "1σ"], "range": ["#1d9ff0", "#111111"]}, "legend": null}}},
  {"data": {"name": "arr"}, "transform": [{"filter": "datum.g=='1σ'"}], "mark": {"type": "point", "shape": "triangle-down", "filled": true, "opacity": 1, "size": 320, "angle": 55, "clip": false}, "encoding": {"x": {"field": "x2", "type": "quantitative", "scale": {"domain": [0.7853, 0.8456], "nice": false, "zero": false}, "axis": null}, "y": {"field": "y2", "type": "quantitative", "scale": {"domain": [0, 1], "nice": false, "zero": false}, "axis": null}, "color": {"field": "g", "type": "nominal", "scale": {"domain": ["8σ", "1σ"], "range": ["#1d9ff0", "#111111"]}, "legend": null}}},
  {"data": {"name": "ann"}, "transform": [{"filter": "datum.f=='t'"}], "mark": {"type": "text", "align": "left", "baseline": "alphabetic", "font": "DejaVu Serif", "fontSize": 44, "clip": false}, "encoding": {"x": {"field": "x", "type": "quantitative", "scale": {"domain": [0.7853, 0.8456], "nice": false, "zero": false}, "axis": null}, "y": {"field": "y", "type": "quantitative", "scale": {"domain": [0, 1], "nice": false, "zero": false}, "axis": null}, "text": {"field": "t"}, "color": {"field": "g", "type": "nominal", "scale": {"domain": ["8σ", "1σ"], "range": ["#1d9ff0", "#111111"]}, "legend": null}}},
  {"data": {"name": "ann"}, "transform": [{"filter": "datum.f=='d'"}], "mark": {"type": "text", "align": "left", "baseline": "alphabetic", "font": "Liberation Serif", "fontSize": 53, "clip": false}, "encoding": {"x": {"field": "x", "type": "quantitative", "scale": {"domain": [0.7853, 0.8456], "nice": false, "zero": false}, "axis": null}, "y": {"field": "y", "type": "quantitative", "scale": {"domain": [0, 1], "nice": false, "zero": false}, "axis": null}, "text": {"field": "t"}, "color": {"field": "g", "type": "nominal", "scale": {"domain": ["8σ", "1σ"], "range": ["#1d9ff0", "#111111"]}, "legend": null}}},
  {"data": {"name": "ann"}, "transform": [{"filter": "datum.f=='g'"}], "mark": {"type": "text", "align": "left", "baseline": "alphabetic", "font": "Liberation Serif", "fontSize": 52, "fontWeight": "bold", "fontStyle": "italic", "clip": false}, "encoding": {"x": {"field": "x", "type": "quantitative", "scale": {"domain": [0.7853, 0.8456], "nice": false, "zero": false}, "axis": null}, "y": {"field": "y", "type": "quantitative", "scale": {"domain": [0, 1], "nice": false, "zero": false}, "axis": null}, "text": {"field": "t"}, "color": {"field": "g", "type": "nominal", "scale": {"domain": ["8σ", "1σ"], "range": ["#1d9ff0", "#111111"]}, "legend": null}}},
  {"data": {"name": "ann"}, "transform": [{"filter": "datum.f=='b'"}], "mark": {"type": "text", "align": "left", "baseline": "alphabetic", "font": "Roboto", "fontSize": 44, "fontWeight": 300, "fontStyle": "italic", "clip": false}, "encoding": {"x": {"field": "x", "type": "quantitative", "scale": {"domain": [0.7853, 0.8456], "nice": false, "zero": false}, "axis": null}, "y": {"field": "y", "type": "quantitative", "scale": {"domain": [0, 1], "nice": false, "zero": false}, "axis": null}, "text": {"field": "t"}, "color": {"field": "g", "type": "nominal", "scale": {"domain": ["8σ", "1σ"], "range": ["#1d9ff0", "#111111"]}, "legend": null}}}
 ]},
 {"width": 362, "height": 361, "view": {"stroke": null}, "data": {"values": [{"a": 0}]}, "mark": {"type": "text", "text": ""}},
 {"width": 362, "height": 361, "layer": [
  {"data": {"name": "E_b2"}, "mark": {"type": "line", "interpolate": "cardinal-closed", "fill": "#80c8fa", "stroke": "#1a6cb8", "strokeWidth": 1.6, "clip": true}, "encoding": {"x": {"field": "x", "type": "quantitative", "scale": {"domain": [0.2697, 0.3438], "nice": false, "zero": false}, "axis": {"values": [0.27, 0.285, 0.3, 0.315, 0.33], "format": ".3f", "title": "Ωₘ", "labelFont": "Liberation Serif", "labelFontSize": 32, "titleFont": "Liberation Serif", "titleFontSize": 35}}, "y": {"field": "y", "type": "quantitative", "scale": {"domain": [0.8701, 1.0276], "nice": false, "zero": false}, "axis": {"values": [0.88, 0.92, 0.96, 1.0], "format": ".2f", "title": "nₛ", "titleFontStyle": "italic", "labelFont": "Liberation Serif", "labelFontSize": 32, "titleFont": "Liberation Serif", "titleFontSize": 35}}, "order": {"value": null}}},
  {"data": {"name": "E_b1"}, "mark": {"type": "line", "interpolate": "cardinal-closed", "fill": "#77a3cf", "stroke": "#0f3f7c", "strokeWidth": 1.6, "clip": true}, "encoding": {"x": {"field": "x", "type": "quantitative", "scale": {"domain": [0.2697, 0.3438], "nice": false, "zero": false}}, "y": {"field": "y", "type": "quantitative", "scale": {"domain": [0.8701, 1.0276], "nice": false, "zero": false}}, "order": {"value": null}}},
  {"data": {"name": "E_g2"}, "mark": {"type": "line", "interpolate": "cardinal", "stroke": "#2e2e2e", "strokeWidth": 3.6, "strokeDash": [14, 7.5], "clip": true}, "encoding": {"x": {"field": "x", "type": "quantitative", "scale": {"domain": [0.2697, 0.3438], "nice": false, "zero": false}}, "y": {"field": "y", "type": "quantitative", "scale": {"domain": [0.8701, 1.0276], "nice": false, "zero": false}}, "order": {"value": null}}},
  {"data": {"name": "E_g1"}, "mark": {"type": "line", "interpolate": "cardinal", "stroke": "#2e2e2e", "strokeWidth": 3.6, "strokeDash": [14, 7.5], "clip": true}, "encoding": {"x": {"field": "x", "type": "quantitative", "scale": {"domain": [0.2697, 0.3438], "nice": false, "zero": false}}, "y": {"field": "y", "type": "quantitative", "scale": {"domain": [0.8701, 1.0276], "nice": false, "zero": false}}, "order": {"value": null}}},
  {"data": {"name": "E_r2"}, "mark": {"type": "line", "interpolate": "cardinal-closed", "fill": "#ff4040", "fillOpacity": 0.53, "stroke": "#b83232", "strokeWidth": 1.6, "clip": true}, "encoding": {"x": {"field": "x", "type": "quantitative", "scale": {"domain": [0.2697, 0.3438], "nice": false, "zero": false}}, "y": {"field": "y", "type": "quantitative", "scale": {"domain": [0.8701, 1.0276], "nice": false, "zero": false}}, "order": {"value": null}}},
  {"data": {"name": "E_r1"}, "mark": {"type": "line", "interpolate": "cardinal-closed", "fill": "#aa6763", "fillOpacity": 0.53, "stroke": "#6b1a1a", "strokeWidth": 1.6, "clip": true}, "encoding": {"x": {"field": "x", "type": "quantitative", "scale": {"domain": [0.2697, 0.3438], "nice": false, "zero": false}}, "y": {"field": "y", "type": "quantitative", "scale": {"domain": [0.8701, 1.0276], "nice": false, "zero": false}}, "order": {"value": null}}},
  {"data": {"name": "tv_om"}, "mark": {"type": "rule", "color": "#111111", "strokeWidth": 1.7, "strokeDash": [7, 4.5]}, "encoding": {"x": {"field": "v", "type": "quantitative", "scale": {"domain": [0.2697, 0.3438], "nice": false, "zero": false}}}},
  {"data": {"name": "tv_ns"}, "mark": {"type": "rule", "color": "#111111", "strokeWidth": 1.7, "strokeDash": [7, 4.5]}, "encoding": {"y": {"field": "v", "type": "quantitative", "scale": {"domain": [0.8701, 1.0276], "nice": false, "zero": false}}}}
 ]},
 {"width": 362, "height": 361, "layer": [
  {"data": {"name": "F_b2"}, "mark": {"type": "line", "interpolate": "cardinal-closed", "fill": "#80c8fa", "stroke": "#1a6cb8", "strokeWidth": 1.6, "clip": true}, "encoding": {"x": {"field": "x", "type": "quantitative", "scale": {"domain": [0.7853, 0.8456], "nice": false, "zero": false}, "axis": {"values": [0.795, 0.81, 0.825, 0.84], "format": ".3f", "title": "S₈", "titleFontStyle": "italic", "labelFont": "Liberation Serif", "labelFontSize": 32, "titleFont": "Liberation Serif", "titleFontSize": 35}}, "y": {"field": "y", "type": "quantitative", "scale": {"domain": [0.8701, 1.0276], "nice": false, "zero": false}, "axis": null}, "order": {"value": null}}},
  {"data": {"name": "F_b1"}, "mark": {"type": "line", "interpolate": "cardinal-closed", "fill": "#77a3cf", "stroke": "#0f3f7c", "strokeWidth": 1.6, "clip": true}, "encoding": {"x": {"field": "x", "type": "quantitative", "scale": {"domain": [0.7853, 0.8456], "nice": false, "zero": false}}, "y": {"field": "y", "type": "quantitative", "scale": {"domain": [0.8701, 1.0276], "nice": false, "zero": false}, "axis": null}, "order": {"value": null}}},
  {"data": {"name": "F_g2"}, "mark": {"type": "line", "interpolate": "cardinal", "stroke": "#2e2e2e", "strokeWidth": 3.6, "strokeDash": [14, 7.5], "clip": true}, "encoding": {"x": {"field": "x", "type": "quantitative", "scale": {"domain": [0.7853, 0.8456], "nice": false, "zero": false}}, "y": {"field": "y", "type": "quantitative", "scale": {"domain": [0.8701, 1.0276], "nice": false, "zero": false}, "axis": null}, "order": {"value": null}}},
  {"data": {"name": "F_g1"}, "mark": {"type": "line", "interpolate": "cardinal", "stroke": "#2e2e2e", "strokeWidth": 3.6, "strokeDash": [14, 7.5], "clip": true}, "encoding": {"x": {"field": "x", "type": "quantitative", "scale": {"domain": [0.7853, 0.8456], "nice": false, "zero": false}}, "y": {"field": "y", "type": "quantitative", "scale": {"domain": [0.8701, 1.0276], "nice": false, "zero": false}, "axis": null}, "order": {"value": null}}},
  {"data": {"name": "F_r2"}, "mark": {"type": "line", "interpolate": "cardinal-closed", "fill": "#ff4040", "fillOpacity": 0.53, "stroke": "#b83232", "strokeWidth": 1.6, "clip": true}, "encoding": {"x": {"field": "x", "type": "quantitative", "scale": {"domain": [0.7853, 0.8456], "nice": false, "zero": false}}, "y": {"field": "y", "type": "quantitative", "scale": {"domain": [0.8701, 1.0276], "nice": false, "zero": false}, "axis": null}, "order": {"value": null}}},
  {"data": {"name": "F_r1"}, "mark": {"type": "line", "interpolate": "cardinal-closed", "fill": "#aa6763", "fillOpacity": 0.53, "stroke": "#6b1a1a", "strokeWidth": 1.6, "clip": true}, "encoding": {"x": {"field": "x", "type": "quantitative", "scale": {"domain": [0.7853, 0.8456], "nice": false, "zero": false}}, "y": {"field": "y", "type": "quantitative", "scale": {"domain": [0.8701, 1.0276], "nice": false, "zero": false}, "axis": null}, "order": {"value": null}}},
  {"data": {"name": "tv_s8"}, "mark": {"type": "rule", "color": "#111111", "strokeWidth": 1.7, "strokeDash": [7, 4.5]}, "encoding": {"x": {"field": "v", "type": "quantitative", "scale": {"domain": [0.7853, 0.8456], "nice": false, "zero": false}}}},
  {"data": {"name": "tv_ns"}, "mark": {"type": "rule", "color": "#111111", "strokeWidth": 1.7, "strokeDash": [7, 4.5]}, "encoding": {"y": {"field": "v", "type": "quantitative", "scale": {"domain": [0.8701, 1.0276], "nice": false, "zero": false}, "axis": null}}}
 ]},
 {"width": 362, "height": 361, "layer": [
  {"data": {"name": "C_b"}, "transform": [{"filter": "datum.sh==1"}], "mark": {"type": "area", "color": "#1f78d4", "opacity": 0.21, "interpolate": "monotone", "clip": true}, "encoding": {"x": {"field": "x", "type": "quantitative", "scale": {"domain": [0.8701, 1.0276], "nice": false, "zero": false}, "axis": {"values": [0.88, 0.92, 0.96, 1.0], "format": ".2f", "title": "nₛ", "titleFontStyle": "italic", "labelFont": "Liberation Serif", "labelFontSize": 32, "titleFont": "Liberation Serif", "titleFontSize": 35}}, "y": {"field": "y", "type": "quantitative", "scale": {"domain": [0, 1], "nice": false, "zero": false}, "axis": null, "stack": null}}},
  {"data": {"name": "C_g"}, "transform": [{"filter": "datum.sh==1"}], "mark": {"type": "area", "color": "#3a3a3a", "opacity": 0.2, "interpolate": "monotone", "clip": true}, "encoding": {"x": {"field": "x", "type": "quantitative", "scale": {"domain": [0.8701, 1.0276], "nice": false, "zero": false}}, "y": {"field": "y", "type": "quantitative", "scale": {"domain": [0, 1], "nice": false, "zero": false}, "axis": null, "stack": null}}},
  {"data": {"name": "C_r"}, "transform": [{"filter": "datum.sh==1"}], "mark": {"type": "area", "color": "#e8403c", "opacity": 0.22, "interpolate": "monotone", "clip": true}, "encoding": {"x": {"field": "x", "type": "quantitative", "scale": {"domain": [0.8701, 1.0276], "nice": false, "zero": false}}, "y": {"field": "y", "type": "quantitative", "scale": {"domain": [0, 1], "nice": false, "zero": false}, "axis": null, "stack": null}}},
  {"data": {"name": "C_r"}, "mark": {"type": "line", "color": "#e8403c", "strokeWidth": 1.8, "interpolate": "monotone", "clip": true}, "encoding": {"x": {"field": "x", "type": "quantitative", "scale": {"domain": [0.8701, 1.0276], "nice": false, "zero": false}}, "y": {"field": "y", "type": "quantitative", "scale": {"domain": [0, 1], "nice": false, "zero": false}, "axis": null, "stack": null}}},
  {"data": {"name": "C_b"}, "mark": {"type": "line", "color": "#1f78d4", "strokeWidth": 1.8, "interpolate": "monotone", "clip": true}, "encoding": {"x": {"field": "x", "type": "quantitative", "scale": {"domain": [0.8701, 1.0276], "nice": false, "zero": false}}, "y": {"field": "y", "type": "quantitative", "scale": {"domain": [0, 1], "nice": false, "zero": false}, "axis": null, "stack": null}}},
  {"data": {"name": "C_g"}, "mark": {"type": "line", "color": "#2e2e2e", "strokeWidth": 3.6, "strokeDash": [14, 7.5], "interpolate": "monotone", "clip": true}, "encoding": {"x": {"field": "x", "type": "quantitative", "scale": {"domain": [0.8701, 1.0276], "nice": false, "zero": false}}, "y": {"field": "y", "type": "quantitative", "scale": {"domain": [0, 1], "nice": false, "zero": false}, "axis": null, "stack": null}}},
  {"data": {"name": "tv_ns"}, "mark": {"type": "rule", "color": "#111111", "strokeWidth": 1.7, "strokeDash": [7, 4.5]}, "encoding": {"x": {"field": "v", "type": "quantitative", "scale": {"domain": [0.8701, 1.0276], "nice": false, "zero": false}}}}
 ]}
]
}
